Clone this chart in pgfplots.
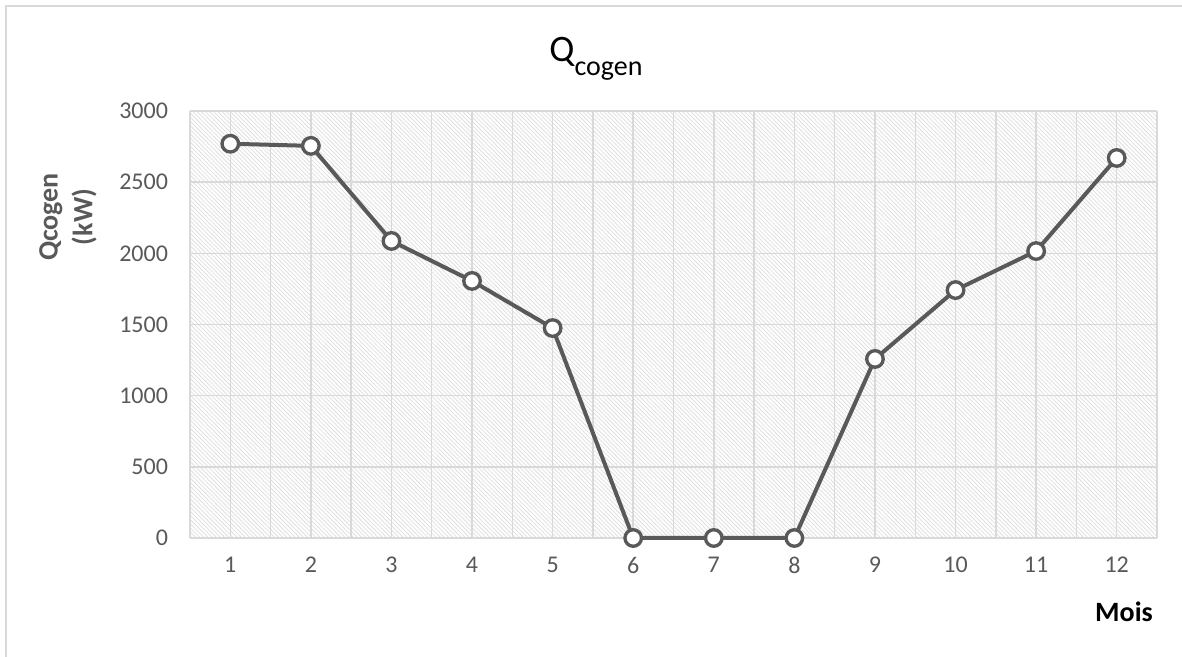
\documentclass[border=0pt]{standalone}
\usepackage{pgfplots}
\pgfplotsset{compat=1.18}
\usepackage{fontspec}
\setmainfont{Carlito}
\usetikzlibrary{patterns.meta}
\definecolor{txtgray}{HTML}{595959}
\definecolor{gridgray}{HTML}{D9D9D9}
\definecolor{hatchgray}{HTML}{E0E0E0}
\definecolor{linegray}{HTML}{595959}

\begin{document}
\begin{tikzpicture}
% page frame
\useasboundingbox (0,0) rectangle (886.5pt,492.75pt);
\draw[gridgray, line width=1.5pt] (4.5pt,-5pt) -- (4.5pt,488.25pt) -- (890pt,488.25pt);

\begin{axis}[
  at={(142.5pt,89.25pt)}, anchor=south west,
  scale only axis,
  width=725.25pt, height=320.25pt,
  xmin=0.5, xmax=12.5,
  ymin=0, ymax=3000,
  xtick={1,...,12},
  minor xtick={0.5,1.5,...,12.5},
  ytick={0,500,...,3000},
  grid=both,
  major grid style={gridgray, line width=1.1pt},
  minor grid style={gridgray, line width=1.1pt},
  axis line style={draw=none},
  major tick length=0pt, minor tick length=0pt,
  axis background/.style={
    preaction={fill=white},
    pattern={Lines[angle=-45, distance=2.2pt, line width=0.6pt]},
    pattern color=hatchgray},
  tick label style={font=\fontsize{18}{21}\selectfont, text=txtgray},
  /pgf/number format/assume math mode=true,
  /pgf/number format/set thousands separator={},
  xticklabel shift=11pt,
  yticklabel shift=13pt,
  clip=false,
]
\draw[gridgray, line width=1.3pt] (axis cs:0.5,0) -- (axis cs:12.5,0);
\addplot[color=linegray, line width=3pt,
  mark=*, mark size=6.2pt,
  mark options={fill=white, draw=linegray, line width=2.5pt}]
  coordinates {
  (1,2770) (2,2755) (3,2087) (4,1806) (5,1475) (6,0)
  (7,0) (8,0) (9,1258) (10,1742) (11,2016) (12,2670)
  };
\end{axis}

% title
\node[anchor=base, inner sep=0pt] at (447pt,446.25pt)
  {\fontsize{28}{30}\selectfont Q\raisebox{-10pt}{\fontsize{21}{22}\selectfont cogen}};
% axis titles
\node[rotate=90, align=center, text=txtgray, inner sep=0pt,
  font=\fontsize{21}{26}\selectfont\bfseries] at (51pt,330pt) {Qcogen\\(kW)};
\node[inner sep=0pt, font=\fontsize{21}{24}\selectfont\bfseries] at (843pt,33.75pt) {Mois};
\end{tikzpicture}
\end{document}
